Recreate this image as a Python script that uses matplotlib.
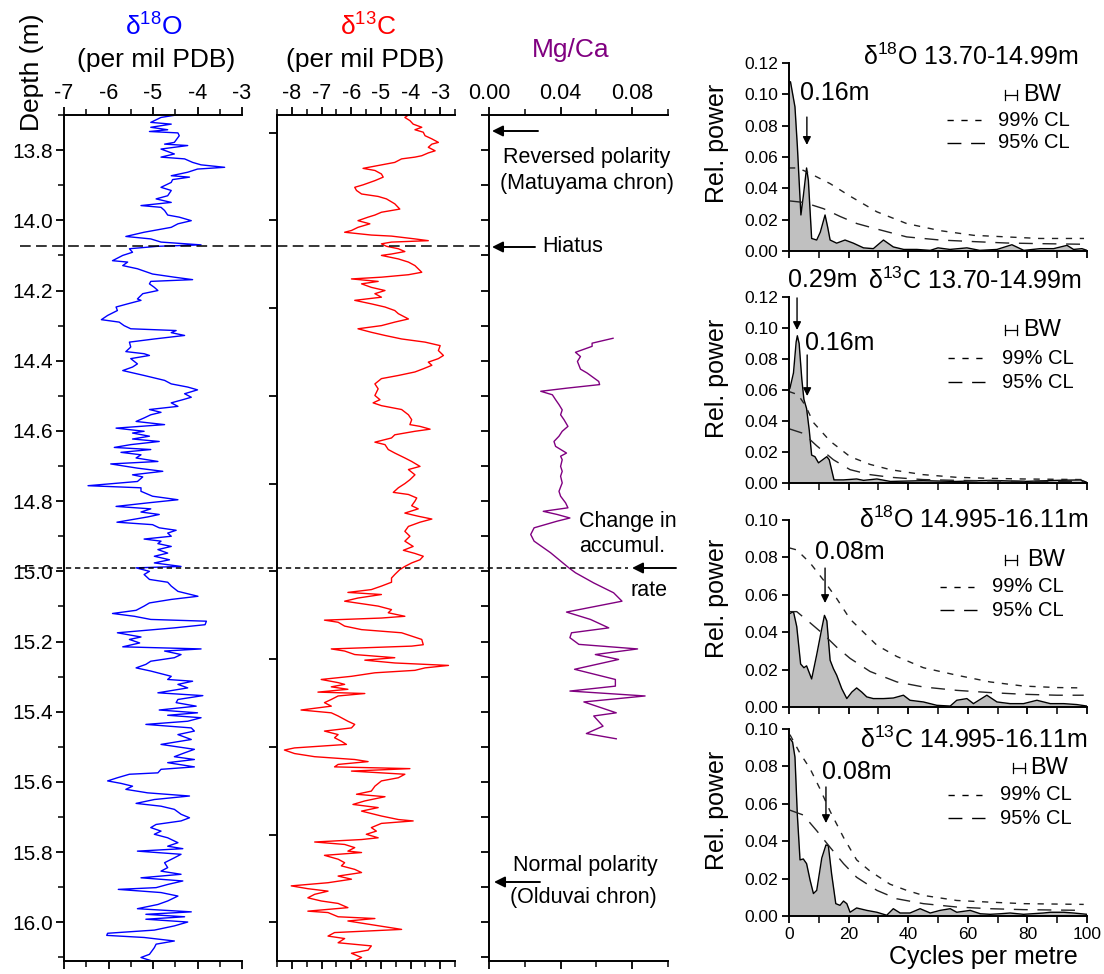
import numpy as np
import matplotlib
matplotlib.use("Agg")
import matplotlib.pyplot as plt
from matplotlib.lines import Line2D
from matplotlib.patches import FancyArrowPatch
from matplotlib.ticker import MultipleLocator, FormatStrFormatter, NullFormatter
from matplotlib import transforms

plt.rcParams.update({
    "font.family":        ["Liberation Sans", "DejaVu Sans"],
    "mathtext.fontset":   "custom",
    "mathtext.rm":        "Liberation Sans",
    "mathtext.it":        "Liberation Sans:italic",
    "mathtext.bf":        "Liberation Sans:bold",
    "axes.unicode_minus": False,
    "axes.linewidth":     1.4,
    "xtick.direction":    "out",
    "ytick.direction":    "out",
    "xtick.major.width":  1.3,
    "ytick.major.width":  1.3,
    "xtick.minor.width":  1.1,
    "ytick.minor.width":  1.1,
})

# ── Depth series (depth m, value) ────────────────────────────────────────────
D18O = np.array([
    (13.700, -4.48), (13.707, -4.82), (13.721, -5.05), (13.726, -4.59), (13.735, -5.05),
    (13.742, -4.67), (13.747, -5.08), (13.751, -4.44), (13.759, -4.41), (13.778, -4.52),
    (13.783, -4.74), (13.787, -4.22), (13.797, -4.82), (13.811, -4.52), (13.820, -4.82),
    (13.825, -4.29), (13.835, -4.11), (13.842, -3.92), (13.849, -3.39), (13.854, -4.00),
    (13.863, -4.22), (13.873, -4.59), (13.877, -4.18), (13.884, -4.56), (13.892, -4.59),
    (13.906, -4.82), (13.915, -4.59), (13.930, -4.67), (13.939, -4.93), (13.949, -4.59),
    (13.958, -5.27), (13.963, -4.82), (13.972, -4.74), (13.985, -4.67), (13.991, -4.41),
    (14.001, -4.14), (14.010, -4.44), (14.020, -4.59), (14.034, -5.20), (14.046, -5.61),
    (14.053, -5.05), (14.062, -4.82), (14.070, -3.92), (14.074, -4.89), (14.081, -5.53),
    (14.091, -5.46), (14.100, -5.68), (14.115, -5.91), (14.119, -5.57), (14.129, -5.68),
    (14.138, -5.35), (14.153, -5.01), (14.162, -4.52), (14.169, -4.11), (14.174, -5.05),
    (14.181, -5.08), (14.191, -4.97), (14.200, -4.89), (14.209, -5.23), (14.224, -5.35),
    (14.228, -5.27), (14.238, -5.57), (14.247, -5.83), (14.257, -5.80), (14.271, -6.02),
    (14.283, -6.16), (14.290, -5.76), (14.300, -5.65), (14.309, -5.50), (14.314, -4.48),
    (14.320, -4.59), (14.328, -4.29), (14.338, -4.97), (14.347, -5.53), (14.361, -5.50),
    (14.374, -5.61), (14.380, -5.20), (14.385, -5.08), (14.394, -5.50), (14.409, -5.35),
    (14.418, -5.46), (14.428, -5.68), (14.442, -5.20), (14.456, -4.74), (14.466, -4.59),
    (14.475, -4.22), (14.483, -4.00), (14.494, -4.29), (14.504, -4.14),
    (14.511, -4.33), (14.520, -4.59), (14.530, -4.44), (14.539, -5.08), (14.547, -4.82),
    (14.554, -5.05), (14.563, -5.20), (14.573, -5.38), (14.582, -4.74), (14.592, -5.83),
    (14.601, -5.20), (14.606, -5.46), (14.615, -5.08), (14.623, -5.46), (14.630, -4.86),
    (14.639, -5.50), (14.647, -5.87), (14.653, -5.05), (14.661, -5.72), (14.668, -5.27),
    (14.677, -5.38), (14.687, -4.89), (14.694, -5.95), (14.706, -5.35), (14.715, -4.78),
    (14.725, -5.46), (14.731, -5.23), (14.744, -5.35), (14.756, -6.46), (14.762, -5.27),
    (14.772, -5.27), (14.786, -5.01), (14.796, -4.44), (14.805, -5.12), (14.815, -5.83),
    (14.822, -5.05), (14.831, -5.27), (14.838, -4.86), (14.845, -5.12), (14.860, -5.81),
    (14.867, -5.01), (14.876, -4.86), (14.883, -4.48), (14.891, -4.67), (14.900, -4.59),
    (14.908, -5.20), (14.914, -4.82), (14.921, -4.89), (14.929, -4.59), (14.938, -4.89),
    (14.948, -4.67), (14.957, -4.97), (14.967, -4.63), (14.976, -4.97), (14.986, -4.37),
    (14.990, -5.38), (15.000, -5.08), (15.009, -5.20), (15.023, -5.08), (15.031, -4.67),
    (15.042, -4.59), (15.057, -4.44), (15.071, -3.99), (15.080, -4.59), (15.090, -5.08),
    (15.099, -5.20), (15.111, -5.38), (15.120, -5.91), (15.128, -5.42), (15.137, -5.05),
    (15.142, -3.80), (15.152, -3.83), (15.161, -4.52), (15.175, -5.80), (15.187, -5.27),
    (15.194, -5.53), (15.204, -5.30), (15.215, -5.68), (15.221, -3.92), (15.227, -4.74),
    (15.237, -4.37), (15.246, -4.52), (15.256, -5.05), (15.265, -5.16), (15.275, -5.38),
    (15.284, -5.05), (15.299, -4.59),
    (15.308, -4.67), (15.313, -4.11), (15.322, -4.44), (15.332, -4.22), (15.346, -4.89),
    (15.354, -3.88), (15.365, -4.44), (15.374, -4.48), (15.384, -4.03), (15.395, -4.86),
    (15.403, -4.00), (15.410, -4.67), (15.417, -3.92), (15.427, -4.22), (15.436, -5.16),
    (15.446, -4.14), (15.455, -4.07), (15.465, -4.44), (15.479, -4.14), (15.493, -4.82),
    (15.507, -4.07), (15.517, -4.29), (15.528, -4.52), (15.536, -4.07), (15.545, -4.67),
    (15.557, -4.07), (15.564, -4.82), (15.574, -4.89), (15.578, -5.53), (15.588, -5.80),
    (15.597, -6.02), (15.604, -5.72), (15.612, -5.46), (15.621, -5.61), (15.631, -5.12),
    (15.640, -4.18), (15.650, -4.97), (15.661, -5.38), (15.669, -4.82), (15.678, -4.52),
    (15.692, -4.37), (15.702, -4.18), (15.711, -4.37), (15.721, -4.93), (15.730, -5.05),
    (15.740, -4.82), (15.749, -4.97), (15.759, -4.67), (15.773, -4.44), (15.783, -4.67),
    (15.790, -4.33), (15.797, -5.35), (15.806, -4.37), (15.816, -4.52), (15.830, -4.74),
    (15.844, -4.67), (15.854, -4.82), (15.863, -4.37), (15.873, -5.27), (15.882, -4.33),
    (15.892, -4.67), (15.901, -4.93), (15.906, -5.78), (15.915, -4.82), (15.925, -4.44),
    (15.939, -4.67), (15.949, -4.89), (15.961, -5.35), (15.970, -4.14), (15.977, -5.16),
    (15.984, -4.29), (15.991, -5.16), (15.999, -4.22), (16.010, -4.52), (16.022, -4.97),
    (16.031, -6.02), (16.037, -6.04), (16.043, -5.20), (16.053, -4.52), (16.062, -4.93),
    (16.072, -4.97), (16.091, -5.08), (16.100, -5.27), (16.110, -5.02),
])

D13C = np.array([
    (13.700, -4.07), (13.707, -4.19), (13.716, -4.02), (13.726, -3.91), (13.735, -3.62),
    (13.742, -3.85), (13.749, -3.57), (13.759, -3.51), (13.768, -3.28), (13.778, -3.06),
    (13.783, -3.28), (13.792, -3.40), (13.802, -3.17), (13.808, -3.40), (13.816, -3.62),
    (13.820, -3.85), (13.825, -4.30), (13.835, -4.53), (13.844, -5.09), (13.852, -5.60),
    (13.858, -5.20), (13.868, -4.98), (13.877, -4.92), (13.887, -5.20), (13.899, -5.60),
    (13.906, -5.88), (13.915, -5.82), (13.925, -5.65), (13.932, -5.09), (13.939, -4.81),
    (13.953, -4.53), (13.968, -4.36), (13.977, -4.98), (13.985, -5.20), (13.991, -5.43),
    (14.001, -5.77), (14.010, -5.37), (14.020, -5.77), (14.029, -5.99), (14.034, -6.22),
    (14.042, -5.32), (14.045, -4.64), (14.053, -3.85), (14.058, -3.40), (14.062, -4.64),
    (14.067, -4.98), (14.074, -4.81), (14.081, -4.41), (14.089, -4.19), (14.096, -4.64),
    (14.100, -4.98), (14.110, -4.41), (14.119, -4.07), (14.129, -3.85), (14.138, -3.74),
    (14.148, -3.62), (14.155, -4.07), (14.162, -4.98), (14.167, -5.99), (14.174, -5.09),
    (14.181, -5.65), (14.191, -5.32), (14.200, -4.86), (14.209, -5.20), (14.219, -4.98),
    (14.228, -5.88), (14.238, -5.32), (14.247, -4.86), (14.257, -4.53), (14.266, -4.41),
    (14.281, -4.07), (14.290, -4.53), (14.300, -4.98), (14.309, -5.77), (14.319, -5.32),
    (14.328, -4.86), (14.338, -4.30), (14.347, -3.51), (14.357, -3.00), (14.371, -3.06),
    (14.385, -2.89), (14.394, -3.06), (14.404, -3.40), (14.413, -3.28), (14.423, -3.57),
    (14.432, -3.85), (14.442, -4.41), (14.451, -4.98), (14.466, -5.20), (14.480, -5.09),
    (14.499, -5.20),
    (14.511, -5.03), (14.520, -5.26), (14.528, -4.98), (14.539, -4.30), (14.554, -4.07),
    (14.568, -3.96), (14.582, -4.02), (14.587, -3.68), (14.595, -3.34), (14.601, -3.85),
    (14.611, -4.53), (14.620, -4.64), (14.632, -5.20), (14.639, -4.86), (14.653, -4.75),
    (14.663, -4.53), (14.677, -4.19), (14.687, -3.96), (14.701, -3.68), (14.710, -4.07),
    (14.725, -3.85), (14.739, -4.02), (14.750, -4.19), (14.762, -4.41), (14.775, -4.58),
    (14.781, -4.07), (14.791, -3.79), (14.800, -3.85), (14.813, -3.96), (14.822, -3.74),
    (14.834, -4.19), (14.843, -3.74), (14.851, -3.28), (14.860, -3.68), (14.872, -4.07),
    (14.886, -4.19), (14.900, -4.02), (14.914, -4.19), (14.929, -3.91), (14.940, -4.24),
    (14.949, -3.85), (14.957, -3.57), (14.967, -3.68), (14.976, -3.96), (14.986, -4.19),
    (14.995, -4.36), (15.009, -4.53), (15.019, -4.64), (15.031, -4.64), (15.042, -4.98),
    (15.052, -5.32), (15.060, -6.11), (15.066, -4.98), (15.076, -5.77), (15.085, -6.22),
    (15.092, -5.65), (15.099, -5.09), (15.109, -4.64), (15.118, -4.75), (15.128, -4.19),
    (15.133, -4.98), (15.139, -6.90), (15.145, -6.44), (15.156, -6.22), (15.166, -5.65),
    (15.175, -4.30), (15.194, -3.62), (15.209, -3.57), (15.213, -3.96), (15.221, -6.67),
    (15.227, -6.22), (15.237, -5.88), (15.246, -4.53), (15.253, -5.54), (15.261, -4.53),
    (15.268, -2.72), (15.275, -3.51), (15.282, -3.85), (15.289, -5.20), (15.299, -5.99),
    (15.308, -7.01), (15.317, -6.44), (15.322, -6.22), (15.329, -6.67), (15.336, -6.11),
    (15.344, -7.12), (15.348, -5.54), (15.355, -6.44), (15.365, -6.67), (15.374, -6.90),
    (15.384, -6.67), (15.395, -7.69), (15.403, -6.67), (15.412, -6.44), (15.427, -6.11),
    (15.436, -5.88), (15.446, -5.99), (15.455, -6.90), (15.465, -6.44), (15.474, -6.56),
    (15.484, -6.33), (15.493, -6.16), (15.503, -7.91), (15.509, -8.25), (15.519, -7.91),
    (15.528, -7.23), (15.536, -5.88), (15.542, -5.43), (15.550, -6.44), (15.557, -6.56),
    (15.562, -4.02), (15.569, -5.99), (15.578, -4.19), (15.588, -4.41), (15.597, -4.98),
    (15.612, -5.20), (15.626, -5.32), (15.635, -5.82), (15.642, -4.86), (15.654, -5.54),
    (15.664, -5.94), (15.673, -5.09), (15.683, -5.65), (15.697, -4.98), (15.707, -4.41),
    (15.711, -3.91), (15.718, -4.98), (15.730, -5.32), (15.740, -5.15), (15.749, -5.49),
    (15.759, -5.09), (15.764, -5.65), (15.771, -7.23), (15.778, -6.22), (15.787, -5.88),
    (15.797, -6.11), (15.801, -5.65), (15.809, -6.90), (15.820, -6.44), (15.830, -6.22),
    (15.839, -6.33), (15.849, -5.88), (15.858, -5.65), (15.868, -6.44), (15.877, -5.99),
    (15.887, -6.78), (15.896, -8.02), (15.904, -7.46), (15.911, -6.78), (15.920, -7.23),
    (15.930, -7.46), (15.939, -7.01), (15.946, -6.44), (15.958, -6.11), (15.968, -7.46),
    (15.972, -6.78), (15.984, -6.44), (15.989, -5.20), (15.996, -6.11), (16.008, -5.20),
    (16.020, -4.30), (16.029, -6.56), (16.039, -6.78), (16.046, -6.22), (16.058, -6.44),
    (16.067, -5.32), (16.079, -5.43), (16.088, -5.99), (16.100, -5.65), (16.110, -5.88),
])

MGCA = np.array([
    (14.336, 0.0693), (14.350, 0.0576), (14.359, 0.0576), (14.376, 0.0483), (14.388, 0.0511),
    (14.402, 0.0494), (14.424, 0.0511), (14.435, 0.0548), (14.459, 0.0613), (14.468, 0.0618),
    (14.478, 0.0437), (14.487, 0.0289), (14.497, 0.0354), (14.511, 0.0372), (14.525, 0.0391),
    (14.540, 0.0409), (14.554, 0.0400), (14.568, 0.0419), (14.587, 0.0441), (14.601, 0.0409),
    (14.615, 0.0391), (14.630, 0.0363), (14.644, 0.0372), (14.663, 0.0433), (14.672, 0.0400),
    (14.682, 0.0409), (14.701, 0.0400), (14.715, 0.0409), (14.729, 0.0400), (14.748, 0.0409),
    (14.772, 0.0391), (14.786, 0.0400), (14.805, 0.0428), (14.819, 0.0441), (14.829, 0.0303),
    (14.838, 0.0381), (14.848, 0.0452), (14.857, 0.0381), (14.876, 0.0252), (14.895, 0.0233),
    (14.914, 0.0252), (14.947, 0.0344), (14.990, 0.0446), (15.004, 0.0483), (15.033, 0.0585),
    (15.061, 0.0696), (15.085, 0.0743), (15.116, 0.0433), (15.137, 0.0567), (15.161, 0.0669),
    (15.175, 0.0461), (15.189, 0.0452), (15.208, 0.0502), (15.221, 0.0830), (15.237, 0.0594),
    (15.251, 0.0724), (15.279, 0.0478), (15.308, 0.0706), (15.327, 0.0706), (15.341, 0.0452),
    (15.355, 0.0872), (15.372, 0.0530), (15.403, 0.0711), (15.412, 0.0585), (15.441, 0.0637),
    (15.462, 0.0544), (15.477, 0.0711),
])

HIATUS_DEPTH = 14.072
RATE_CHANGE_DEPTH = 14.99

# ── Spectra (cycles per metre, relative power) ───────────────────────────────
S1_FREQ  = [0, 0.5, 2.0, 2.8, 3.5, 4.0, 4.8, 5.9, 6.5, 7.6, 9.3, 10.5, 12.1, 13.0, 13.8, 16.0,
            18.8, 21.6, 25.0, 28.3, 31.7, 35.0, 38.5, 42.9, 47.4, 50.0, 54.0, 59.7, 64.0,
            69.8, 74.8, 78.8, 84.3, 88.8, 93.3, 95.5, 98.3, 100]
S1_POWER = [0.108, 0.108, 0.092, 0.067, 0.041, 0.023, 0.035, 0.053, 0.045, 0.008, 0.007,
            0.012, 0.023, 0.015, 0.007, 0.005, 0.007, 0.005, 0.002, 0.0015, 0.007, 0.0026,
            0.001, 0.001, 0.0004, 0.002, 0.001, 0.002, 0.0004, 0.001, 0.004, 0.0004, 0.0015,
            0.0015, 0.0036, 0.001, 0.0015, 0.0004]
S1_CL99_F = [0, 3, 6.5, 13.8, 20.5, 29.5, 39.5, 50.7, 62, 73, 84, 99]
S1_CL99   = [0.053, 0.053, 0.050, 0.043, 0.035, 0.025, 0.0175, 0.013, 0.010, 0.009, 0.008, 0.008]
S1_CL95_F = [0, 5, 11.6, 17.2, 22.8, 29.5, 39.5, 50.7, 62, 73, 84, 99]
S1_CL95   = [0.032, 0.031, 0.027, 0.022, 0.0175, 0.014, 0.009, 0.007, 0.006, 0.0051, 0.0047, 0.0043]

S2_FREQ  = [0, 0.3, 1.5, 2.4, 2.8, 3.4, 4.3, 5.0, 5.9, 6.8, 7.6, 8.7, 9.9, 11.3, 12.7, 13.5,
            15.1, 18.3, 22.7, 25.0, 29.5, 34.0, 45.0, 56.0, 67.5, 78.7, 90.0, 97.8, 100]
S2_POWER = [0.061, 0.061, 0.071, 0.091, 0.095, 0.090, 0.067, 0.054, 0.048, 0.034, 0.018,
            0.017, 0.013, 0.015, 0.017, 0.015, 0.002, 0.002, 0.0026, 0.0017, 0.0026, 0.001,
            0.0015, 0.001, 0.0017, 0.001, 0.0017, 0.002, 0.0004]
S2_CL99_F = [0, 3, 5.5, 8.2, 13.8, 20.5, 27.2, 34, 45, 56, 67.5, 78.7, 99]
S2_CL99   = [0.059, 0.057, 0.050, 0.039, 0.027, 0.017, 0.012, 0.0086, 0.0054, 0.0037, 0.003,
             0.0026, 0.0022]
S2_CL95_F = [0, 4.8, 9.3, 14.9, 20.5, 27.2, 34, 45, 56, 78.7, 99]
S2_CL95   = [0.035, 0.032, 0.024, 0.015, 0.0086, 0.0054, 0.0037, 0.0022, 0.0017, 0.0011, 0.0011]

S3_FREQ  = [0, 0.3, 1.5, 2.6, 3.9, 5.0, 5.9, 7.6, 9.3, 11.0, 11.9, 12.7, 13.8, 14.9, 16.0,
            17.7, 19.4, 21.1, 22.7, 24.4, 26.1, 28.3, 31.7, 35.0, 38.4, 40.6, 45.1, 49.6,
            54.1, 56.3, 59.7, 61.9, 66.4, 69.8, 74.2, 78.7, 83.2, 87.7, 92.2, 96.6, 100]
S3_POWER = [0.050, 0.050, 0.051, 0.043, 0.023, 0.021, 0.022, 0.015, 0.028, 0.042, 0.049,
            0.046, 0.025, 0.0205, 0.017, 0.0098, 0.0045, 0.008, 0.0102, 0.008, 0.0054,
            0.0045, 0.0045, 0.0048, 0.0063, 0.0036, 0.0027, 0.0009, 0.0005, 0.0036, 0.0045,
            0.0018, 0.0063, 0.0027, 0.0018, 0.0018, 0.0036, 0.0018, 0.0018, 0.0013, 0.0005]
S3_CL99_F = [0.3, 2.6, 7.1, 11.5, 16.0, 20.5, 25.0, 29.5, 36.2, 45.1, 56.3, 67.5, 78.7, 89.9, 98.9]
S3_CL99   = [0.085, 0.084, 0.077, 0.068, 0.058, 0.047, 0.040, 0.033, 0.027, 0.021, 0.017,
             0.0134, 0.0112, 0.0104, 0.0102]
S3_CL95_F = [0.3, 2.6, 7.1, 11.5, 16.0, 20.5, 27.2, 36.2, 45.1, 56.3, 67.5, 78.7, 89.9, 98.9]
S3_CL95   = [0.051, 0.051, 0.045, 0.039, 0.032, 0.026, 0.019, 0.0134, 0.0107, 0.0089, 0.0077,
             0.0068, 0.0063, 0.0063]

S4_FREQ  = [0, 0.3, 1.2, 2.0, 2.8, 3.7, 4.8, 5.9, 7.1, 8.2, 9.3, 11.0, 12.4, 13.2, 14.3,
            15.7, 17.1, 18.3, 19.4, 20.5, 22.7, 26.1, 29.5, 32.8, 35.0, 37.3, 40.6, 44.0,
            47.4, 50.7, 54.1, 56.3, 60.8, 64.2, 67.5, 70.9, 74.2, 78.7, 85.4, 87.7, 92.2,
            95.5, 100]
S4_POWER = [0.095, 0.095, 0.093, 0.085, 0.054, 0.030, 0.0305, 0.028, 0.019, 0.012, 0.0137,
            0.031, 0.038, 0.0376, 0.0225, 0.0066, 0.0057, 0.008, 0.0066, 0.002, 0.0043,
            0.003, 0.002, 0.0004, 0.0039, 0.0016, 0.0016, 0.0039, 0.0016, 0.003, 0.0039,
            0.002, 0.003, 0.0012, 0.0009, 0.0012, 0.0016, 0.0009, 0.0016, 0.002, 0.002,
            0.0016, 0.0009]
S4_CL99_F = [0.3, 3.7, 7.0, 10.4, 13.8, 18.3, 22.7, 27.2, 33.9, 39.5, 45.1, 56.3, 67.5, 78.7, 98.9]
S4_CL99   = [0.097, 0.087, 0.079, 0.068, 0.056, 0.042, 0.030, 0.024, 0.017, 0.0137, 0.011,
             0.0083, 0.0074, 0.0066, 0.0062]
S4_CL95_F = [0.3, 4.8, 9.3, 13.8, 18.3, 22.7, 29.5, 36.2, 45.1, 56.3, 67.5, 78.7, 98.9]
S4_CL95   = [0.0566, 0.054, 0.0456, 0.0367, 0.028, 0.0207, 0.0137, 0.0092, 0.0066, 0.0048,
             0.0039, 0.0034, 0.003]

# ── Figure ───────────────────────────────────────────────────────────────────
W, H = 1104, 974
fig = plt.figure(figsize=(W / 100, H / 100), dpi=100)


def fx(x):
    return x / W


def fy(y):
    return 1 - y / H


def px_axes(x0, y0, x1, y1):
    return fig.add_axes([fx(x0), fy(y1), (x1 - x0) / W, (y1 - y0) / H])


def ftext(x, y, s, **kw):
    kw.setdefault("fontsize", 15.5)
    kw.setdefault("va", "center")
    fig.text(fx(x), fy(y), s, **kw)


def farrow(x_tail, x_head, y):
    fig.add_artist(FancyArrowPatch((fx(x_tail), fy(y)), (fx(x_head), fy(y)),
                                   transform=fig.transFigure, arrowstyle="-|>",
                                   mutation_scale=16, lw=1.4, color="k",
                                   shrinkA=0, shrinkB=0))


def fline(xs, ys, **kw):
    fig.add_artist(Line2D([fx(v) for v in xs], [fy(v) for v in ys],
                          transform=fig.transFigure, color="k", **kw))


# ── Depth tracks ─────────────────────────────────────────────────────────────
ax1 = px_axes(64, 115, 242, 961)
ax2 = px_axes(277, 115, 455, 961)
ax3 = px_axes(489, 115, 668, 961)

track_cfg = [
    (ax1, D18O, "blue",    (-7, -3),     1,    0.5,  "%d"),
    (ax2, D13C, "red",     (-8.5, -2.5), 1,    0.5,  "%d"),
    (ax3, MGCA, "#800080", (0, 0.1),     0.04, 0.02, "%.2f"),
]
for ax, data, col, xlim, xmaj, xmin, fmt in track_cfg:
    ax.plot(data[:, 1], data[:, 0], color=col, lw=1.0)
    ax.set_xlim(*xlim)
    ax.set_ylim(16.11, 13.70)
    ax.spines["right"].set_visible(False)
    ax.xaxis.set_major_locator(MultipleLocator(xmaj))
    ax.xaxis.set_minor_locator(MultipleLocator(xmin))
    ax.xaxis.set_major_formatter(FormatStrFormatter(fmt))
    ax.tick_params(axis="x", which="both", top=True, bottom=True,
                   labeltop=True, labelbottom=False)
    ax.tick_params(axis="x", which="major", length=6, pad=2, labelsize=15.5)
    ax.tick_params(axis="x", which="minor", length=4)
    ax.tick_params(axis="y", which="major", length=6, pad=2, labelsize=15)
    ax.tick_params(axis="y", which="minor", length=4)

ax1.yaxis.set_major_locator(MultipleLocator(0.2))
ax1.yaxis.set_minor_locator(MultipleLocator(0.1))
ax1.yaxis.set_major_formatter(FormatStrFormatter("%.1f"))
ax2.yaxis.set_major_locator(MultipleLocator(0.25))
ax2.yaxis.set_major_formatter(NullFormatter())
ax3.yaxis.set_major_locator(MultipleLocator(0.1))
ax3.yaxis.set_major_formatter(NullFormatter())

# headers
ftext(32, 72, "Depth (m)", rotation=90, ha="center", fontsize=19)
ftext(154, 27, "δ$^{18}$O", ha="center", color="blue", fontsize=19)
ftext(156, 60, "(per mil PDB)", ha="center", fontsize=19)
ftext(368, 27, "δ$^{13}$C", ha="center", color="red", fontsize=19)
ftext(365, 60, "(per mil PDB)", ha="center", fontsize=19)
ftext(571, 50, "Mg/Ca", ha="center", color="#800080", fontsize=19)

# dashed depth markers across the tracks
trans = transforms.blended_transform_factory(fig.transFigure, ax1.transData)
fig.add_artist(Line2D([fx(20), fx(488)], [HIATUS_DEPTH, HIATUS_DEPTH], transform=trans,
                      color="k", lw=1.1, ls=(0, (7, 3.5))))
fig.add_artist(Line2D([fx(20), fx(628)], [RATE_CHANGE_DEPTH, RATE_CHANGE_DEPTH],
                      transform=trans, color="k", lw=1.1, ls=(0, (3.5, 2.5))))

# track annotations
farrow(538, 492, 131)
ftext(503, 158, "Reversed polarity")
ftext(500, 183, "(Matuyama chron)")
farrow(535, 492, 247)
ftext(542, 247, "Hiatus")
ftext(579, 521, "Change in")
ftext(579, 546, "accumul.")
farrow(676, 632, 568)
ftext(630, 590, "rate")
farrow(540, 494, 882)
ftext(513, 866, "Normal polarity")
ftext(510, 897, "(Olduvai chron)")

# ── Spectra ──────────────────────────────────────────────────────────────────
spec_cfg = [
    dict(box=(789, 63, 1087, 251), ymax=0.12,
         freq=S1_FREQ, power=S1_POWER, c99f=S1_CL99_F, c99=S1_CL99, c95f=S1_CL95_F, c95=S1_CL95,
         title="δ$^{18}$O 13.70-14.99m", tpos=(1078, 57),
         marks=[("0.16m", 3.7, 0.1009, 6.0, 0.0855, 0.0677)],
         leg=(1011, 95, 1023, 947, 987, 998, 120, 143), ylab=143),
    dict(box=(789, 297, 1087, 483), ymax=0.12,
         freq=S2_FREQ, power=S2_POWER, c99f=S2_CL99_F, c99=S2_CL99, c95f=S2_CL95_F, c95=S2_CL95,
         title="δ$^{13}$C 13.70-14.99m", tpos=(1082, 281),
         marks=[("0.29m", -0.4, 0.1308, 2.7, 0.1194, 0.0987),
                ("0.16m", 5.4, 0.0903, 6.1, 0.0826, 0.0561)],
         leg=(1011, 330, 1023, 948, 985, 1002, 358, 382), ylab=378),
    dict(box=(789, 520, 1087, 707), ymax=0.10,
         freq=S3_FREQ, power=S3_POWER, c99f=S3_CL99_F, c99=S3_CL99, c95f=S3_CL95_F, c95=S3_CL95,
         title="δ$^{18}$O 14.995-16.11m", tpos=(1088, 520),
         marks=[("0.08m", 8.7, 0.0829, 12.1, 0.0743, 0.0556)],
         leg=(1011, 560, 1027, 940, 977, 992, 587, 610), ylab=598),
    dict(box=(789, 729, 1087, 916), ymax=0.10,
         freq=S4_FREQ, power=S4_POWER, c99f=S4_CL99_F, c99=S4_CL99, c95f=S4_CL95_F, c95=S4_CL95,
         title="δ$^{13}$C 14.995-16.11m", tpos=(1088, 740),
         marks=[("0.08m", 11.1, 0.0770, 12.4, 0.0690, 0.0497)],
         leg=(1019, 768, 1030, 948, 985, 1000, 795, 818), ylab=810),
]

SHORT_DASH = (0, (4.5, 5.5))
LONG_DASH = (0, (10, 7))

for i, c in enumerate(spec_cfg):
    s = px_axes(*c["box"])
    s.fill_between(c["freq"], c["power"], color="#c0c0c0", lw=0)
    s.plot(c["freq"], c["power"], color="k", lw=1.0)
    s.plot(c["c99f"], c["c99"], color="#222222", lw=1.0, ls=SHORT_DASH)
    s.plot(c["c95f"], c["c95"], color="#222222", lw=1.0, ls=LONG_DASH)
    s.set_xlim(0, 100)
    s.set_ylim(0, c["ymax"])
    for side in ("top", "right"):
        s.spines[side].set_visible(False)
    s.xaxis.set_major_locator(MultipleLocator(20))
    s.xaxis.set_minor_locator(MultipleLocator(10))
    s.yaxis.set_major_locator(MultipleLocator(0.02))
    s.yaxis.set_major_formatter(FormatStrFormatter("%.2f"))
    s.tick_params(axis="both", which="major", length=5, pad=3, labelsize=12.5)
    s.tick_params(axis="x", which="minor", length=5)
    if i < 3:
        s.tick_params(axis="x", labelbottom=False)
    ftext(717, c["ylab"], "Rel. power", rotation=90, ha="center", fontsize=18)
    ftext(c["tpos"][0], c["tpos"][1], c["title"], ha="right", fontsize=18)
    for label, tx, ty, ax_f, y0, y1 in c["marks"]:
        s.text(tx, ty, label, ha="left", va="center", fontsize=18, clip_on=False)
        s.annotate("", xy=(ax_f, y1), xytext=(ax_f, y0), annotation_clip=False,
                   arrowprops=dict(arrowstyle="-|>", color="k", lw=1.0,
                                   mutation_scale=12, shrinkA=0, shrinkB=0))
    hx, hy, bwx, lx0, lx1, ltx, y99, y95 = c["leg"]
    fline([hx - 6, hx + 6], [hy, hy], lw=0.9)
    fline([hx - 6, hx - 6], [hy - 5, hy + 5], lw=0.9)
    fline([hx + 6, hx + 6], [hy - 5, hy + 5], lw=0.9)
    ftext(bwx, hy, "BW", fontsize=17)
    fline([lx0, lx1], [y99, y99], lw=1.0, ls=SHORT_DASH)
    ftext(ltx, y99, "99% CL", fontsize=14.5)
    fline([lx0, lx1], [y95, y95], lw=1.0, ls=LONG_DASH)
    ftext(ltx, y95, "95% CL", fontsize=14.5)

ftext(983, 957, "Cycles per metre", ha="center", fontsize=18)

fig.savefig("out.png", dpi=100)
